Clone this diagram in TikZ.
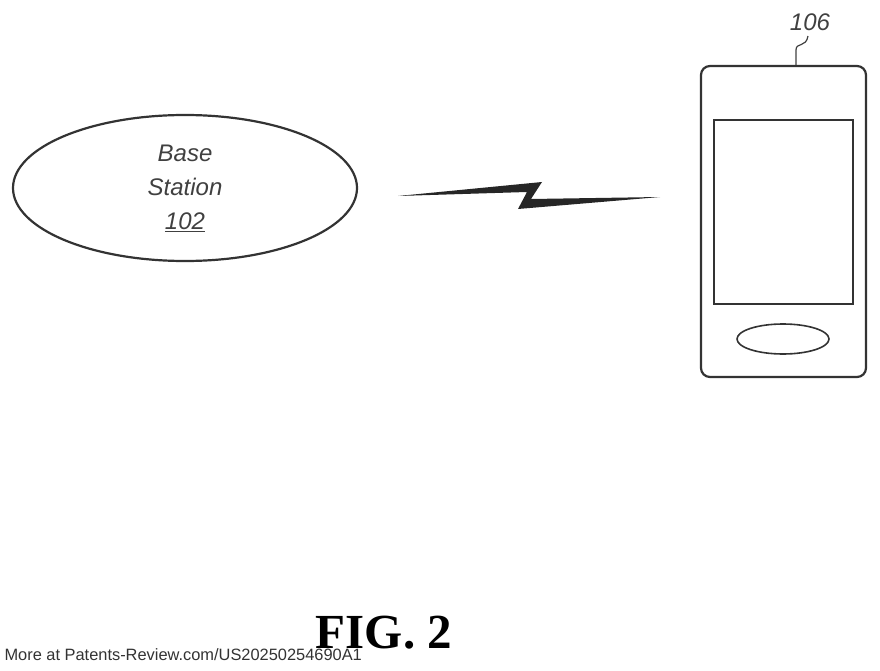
\documentclass[tikz,border=0pt]{standalone}
\usepackage{fontspec}
\setsansfont{Liberation Sans}
\setmainfont{Liberation Serif}
\usetikzlibrary{shapes.geometric}
\begin{document}
\begin{tikzpicture}[x=1pt,y=-1pt,
  ln/.style={draw=black!80,line width=2.2pt},
  lbl/.style={font=\sffamily\itshape\fontsize{24}{34}\selectfont,text=black!75}]
\useasboundingbox (0,0) rectangle (880,671);
\node[ln,ellipse,minimum width=344pt,minimum height=146pt,inner sep=0pt] (bs) at (185,188) {};
\node[lbl,align=center] (bst) at (185,188) {Base\\Station\\\underline{102}};
\coordinate (b1) at (398,196);
\coordinate (b2) at (660,197);
\fill[black!85] (b1) -- (542,182) -- (531,199) -- (b2) -- (518,209) -- (527,192) -- cycle;
\node[ln,draw,rounded corners=9pt,minimum width=165pt,minimum height=311pt,inner sep=0pt] (ph) at (783.5,221.5) {};
\node[ln,line width=1.6pt,draw,minimum width=139pt,minimum height=184pt,inner sep=0pt] (scr) at (783.5,212) {};
\node[ln,line width=1.6pt,draw,ellipse,minimum width=92pt,minimum height=30pt,inner sep=0pt] (btn) at (783,339) {};
\node[lbl] (l106) at (810,22) {106};
\draw[black!75,line width=1.2pt] (l106.south) ++(-2,2) .. controls (806,48) and (796,42) .. (796,50) -- (ph.north -| 796,0);
\node[font=\bfseries\fontsize{49}{52}\selectfont] (fig) at (384,633) {FIG. 2};
\node[font=\sffamily\fontsize{16.4}{18}\selectfont,anchor=west,text=black!80] (src) at (1,655) {More at Patents-Review.com/US20250254690A1};
\end{tikzpicture}
\end{document}
